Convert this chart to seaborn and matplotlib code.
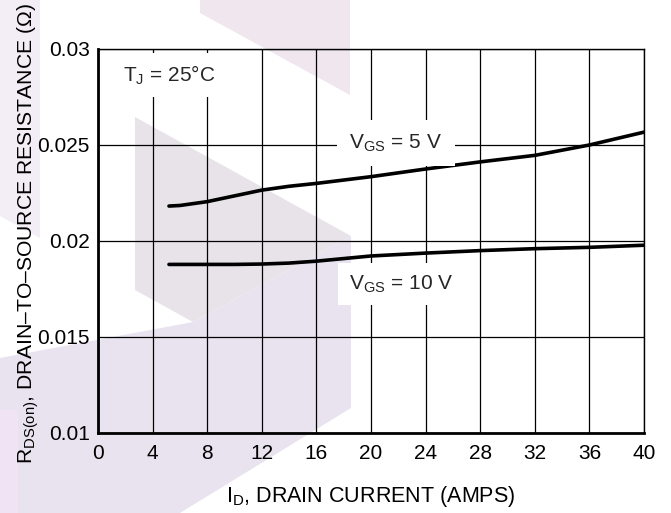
import pandas as pd
import seaborn as sns
import matplotlib
matplotlib.use("Agg")
import matplotlib.pyplot as plt
from matplotlib.patches import Polygon

# drain current (A) and on-resistance (ohm)
current = [5.2, 6, 8, 10, 12, 14, 16, 20, 24, 28, 32, 36, 40]
r_vgs5 = [0.02182, 0.02185, 0.02205, 0.02235, 0.02265, 0.02285, 0.02300,
          0.02335, 0.02375, 0.02412, 0.02446, 0.02500, 0.02567]
r_vgs10 = [0.01878, 0.01878, 0.01878, 0.01878, 0.01880, 0.01885, 0.01895,
           0.01922, 0.01937, 0.01950, 0.01960, 0.01967, 0.01978]

x_ticks = [0, 4, 8, 12, 16, 20, 24, 28, 32, 36, 40]
y_ticks = [0.01, 0.015, 0.02, 0.025, 0.03]
y_tick_labels = ["0.01", "0.015", "0.02", "0.025", "0.03"]

df = pd.concat([
    pd.DataFrame({"I": current, "R": r_vgs5, "vgs": "5 V"}),
    pd.DataFrame({"I": current, "R": r_vgs10, "vgs": "10 V"}),
])

sns.set_theme(style="white")
plt.rcParams["font.family"] = ["Liberation Sans", "DejaVu Sans"]
plt.rcParams["mathtext.fontset"] = "custom"
plt.rcParams["mathtext.rm"] = "Liberation Sans"

W, H = 671, 513
fig = plt.figure(figsize=(W / 100, H / 100), dpi=100, facecolor="white")
ax = fig.add_axes([98 / W, 1 - 433 / H, (644 - 98) / W, (433 - 49) / H])
ax.set_facecolor("none")


# watermark shapes behind the chart (pixel coords of the picture)
def shape(pts, color):
    p = Polygon([(x / W, 1 - y / H) for x, y in pts], closed=True,
                transform=fig.transFigure, facecolor=color, edgecolor="none",
                zorder=-10)
    fig.patches.append(p)


shape([(0, 0), (40, 0), (40, 238), (0, 216)], "#f3eef6")
shape([(200, 0), (350, 0), (350, 95), (200, 13)], "#efe6ee")
shape([(135, 117), (351, 236), (193, 322), (135, 290)], "#e7e3e9")
shape([(0, 358), (193, 322), (351, 236), (351, 408), (180, 513),
       (0, 513)], "#e9e3f0")
shape([(0, 410), (18, 410), (18, 513), (0, 513)], "#f0e4f4")

sns.lineplot(data=df, x="I", y="R", hue="vgs", palette=["black", "black"],
             linewidth=2.6, legend=False, ax=ax, zorder=2)

ax.set_xlim(0, 40)
ax.set_ylim(0.01, 0.03)
ax.set_xticks(x_ticks)
ax.set_yticks(y_ticks)
ax.set_yticklabels(y_tick_labels)
ax.tick_params(axis="both", length=0, labelsize=15, colors="black")
ax.tick_params(axis="x", pad=8)
ax.tick_params(axis="y", pad=6)
ax.grid(True, color="black", linewidth=0.9)

for side in ["left", "bottom"]:
    ax.spines[side].set_linewidth(2.0)
for side in ["top", "right"]:
    ax.spines[side].set_linewidth(1.0)
for s in ax.spines.values():
    s.set_color("black")

box = dict(boxstyle="square,pad=0.5", facecolor="white", edgecolor="none")
ax.text(1.8, 0.02865, r"T$_{\mathregular{J}}$ = 25°C", fontsize=15,
        ha="left", va="center", bbox=box, zorder=3)
ax.text(21.8, 0.02510, r"V$_{\mathregular{GS}}$ = 5 V", fontsize=15,
        ha="center", va="center",
        bbox=dict(boxstyle="square,pad=0.6", facecolor="white", edgecolor="none"),
        zorder=3)
ax.text(22.2, 0.01776, r"V$_{\mathregular{GS}}$ = 10 V", fontsize=15,
        ha="center", va="center", bbox=box, zorder=3)

ax.set_xlabel(r"I$_{\mathregular{D}}$, DRAIN CURRENT (AMPS)", fontsize=15.5,
              color="black", labelpad=15)
ax.set_ylabel(r"R$_{\mathregular{DS(on)}}$, DRAIN–TO–SOURCE RESISTANCE (Ω)",
              fontsize=15.2, color="black", labelpad=6)
ax.yaxis.set_label_coords(-0.105, 0.52)

fig.savefig("out.png", dpi=100, facecolor="white")
